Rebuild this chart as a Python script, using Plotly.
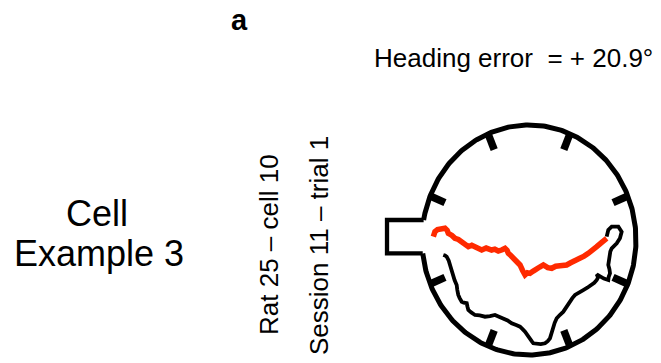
import numpy as np
import plotly.graph_objects as go

# Arena geometry (normalised arena units, radius = 1)
tick_angles_deg = [22.5, 67.5, 112.5, 157.5, 202.5, 247.5, 292.5, 337.5]
tick_inner_r = 0.85
box_left_x = -1.327
box_top_y = 0.174
box_bottom_y = -0.117

# Outbound (red) trajectory, arena units
red_x = [-0.894, -0.885, -0.879, -0.855, -0.832, -0.805, -0.785, -0.765, -0.754, -0.720,
         -0.692, -0.660, -0.629, -0.600, -0.567, -0.535, -0.505, -0.470, -0.442, -0.400,
         -0.349, -0.320, -0.287, -0.250, -0.224, -0.205, -0.193, -0.170, -0.147, -0.115,
         -0.084, -0.060, -0.037, -0.015, 0.009, 0.040, 0.072, 0.100, 0.134, 0.175,
         0.212, 0.250, 0.290, 0.320, 0.352, 0.385, 0.414, 0.445, 0.477, 0.515,
         0.554, 0.595, 0.633, 0.680, 0.726]
red_y = [0.029, 0.055, 0.072, 0.090, 0.096, 0.108, 0.102, 0.085, 0.058, 0.040,
         0.015, 0.005, -0.015, -0.040, -0.058, -0.045, -0.058, -0.075, -0.087, -0.070,
         -0.087, -0.080, -0.096, -0.085, -0.072, -0.090, -0.116, -0.135, -0.159, -0.185,
         -0.217, -0.265, -0.304, -0.285, -0.290, -0.270, -0.246, -0.235, -0.217, -0.240,
         -0.246, -0.228, -0.223, -0.225, -0.217, -0.200, -0.189, -0.178, -0.159, -0.140,
         -0.116, -0.090, -0.058, -0.020, 0.015]

# Return (black) trajectory, arena units
blk_x = [0.726, 0.741, 0.773, 0.835, 0.866, 0.850, 0.820, 0.790, 0.773, 0.760,
         0.757, 0.748, 0.741, 0.752, 0.757, 0.745, 0.741, 0.700, 0.664, 0.633,
         0.645, 0.633, 0.610, 0.586, 0.545, 0.507, 0.470, 0.430, 0.405, 0.383,
         0.350, 0.321, 0.290, 0.259, 0.240, 0.227, 0.210, 0.196, 0.175, 0.150,
         0.110, 0.072, 0.040, 0.025, 0.009, -0.015, -0.037, -0.060, -0.084, -0.120,
         -0.162, -0.200, -0.240, -0.280, -0.318, -0.365, -0.411, -0.460, -0.505, -0.540,
         -0.567, -0.575, -0.582, -0.610, -0.629, -0.648, -0.661, -0.670, -0.676, -0.695,
         -0.707, -0.720, -0.738, -0.750, -0.769, -0.785, -0.801]
blk_y = [0.029, 0.087, 0.116, 0.116, 0.072, 0.015, -0.029, -0.050, -0.072, -0.100,
         -0.130, -0.175, -0.217, -0.255, -0.290, -0.320, -0.348, -0.335, -0.319, -0.298,
         -0.325, -0.348, -0.372, -0.391, -0.415, -0.435, -0.455, -0.478, -0.505, -0.537,
         -0.580, -0.623, -0.650, -0.681, -0.720, -0.768, -0.815, -0.855, -0.880, -0.898,
         -0.905, -0.898, -0.898, -0.880, -0.855, -0.825, -0.797, -0.775, -0.754, -0.740,
         -0.724, -0.700, -0.681, -0.668, -0.652, -0.662, -0.667, -0.655, -0.652, -0.630,
         -0.609, -0.580, -0.550, -0.545, -0.537, -0.505, -0.478, -0.435, -0.391, -0.350,
         -0.304, -0.260, -0.217, -0.180, -0.145, -0.135, -0.130]

# Texts
panel_label = "a"
heading_text = "Heading error\u00a0 = + 20.9°"
cell_line1 = "Cell"
cell_line2 = "Example 3"
rat_text = "Rat 25 – cell 10"
session_text = "Session 11 – trial 1"

W, H = 661, 363
FONT = "Liberation Sans, Arial, Helvetica, sans-serif"

fig = go.Figure()

# Arena wall with an opening where the start box joins
th_top = np.pi - np.arcsin(box_top_y)
th_bot = np.pi - np.arcsin(box_bottom_y)
theta = np.linspace(th_bot - 2 * np.pi, th_top, 400)
fig.add_trace(go.Scatter(x=np.cos(theta), y=np.sin(theta), mode="lines",
                         line=dict(color="black", width=5), hoverinfo="skip"))

# Start box
fig.add_trace(go.Scatter(x=[np.cos(th_top), box_left_x, box_left_x, np.cos(th_bot)],
                         y=[box_top_y, box_top_y, box_bottom_y, box_bottom_y],
                         mode="lines", line=dict(color="black", width=4.3),
                         hoverinfo="skip"))

# Ticks
for a in tick_angles_deg:
    r = np.deg2rad(a)
    fig.add_trace(go.Scatter(x=[np.cos(r), tick_inner_r * np.cos(r)],
                             y=[np.sin(r), tick_inner_r * np.sin(r)],
                             mode="lines", line=dict(color="black", width=7.5),
                             hoverinfo="skip"))

# Trajectories
fig.add_trace(go.Scatter(x=blk_x, y=blk_y, mode="lines",
                         line=dict(color="black", width=3.8),
                         hoverinfo="skip"))
fig.add_trace(go.Scatter(x=red_x, y=red_y, mode="lines",
                         line=dict(color="#FF2A00", width=5.5),
                         hoverinfo="skip"))

cx, cy, rx, ry = 529, 240, 107, 115
fig.update_xaxes(range=[-cx / rx, (W - cx) / rx], visible=False, fixedrange=True)
fig.update_yaxes(range=[-(H - cy) / ry, cy / ry], visible=False, fixedrange=True)


def ann(text, px, py, size, bold=False, angle=0):
    fig.add_annotation(text=f"<b>{text}</b>" if bold else text,
                       xref="paper", yref="paper", x=px / W, y=1 - py / H,
                       xanchor="center", yanchor="middle", showarrow=False,
                       textangle=angle,
                       font=dict(family=FONT, size=size, color="black"))


ann(panel_label, 239, 20, 29, bold=True)
ann(heading_text, 513, 58, 26)
ann(cell_line1, 97, 213, 36)
ann(cell_line2, 99, 253, 36)
ann(rat_text, 269, 245, 26, angle=-90)
ann(session_text, 319, 246, 26, angle=-90)

fig.update_layout(width=W, height=H, margin=dict(l=0, r=0, t=0, b=0),
                  paper_bgcolor="white", plot_bgcolor="white", showlegend=False)

fig.write_html("out.html")
